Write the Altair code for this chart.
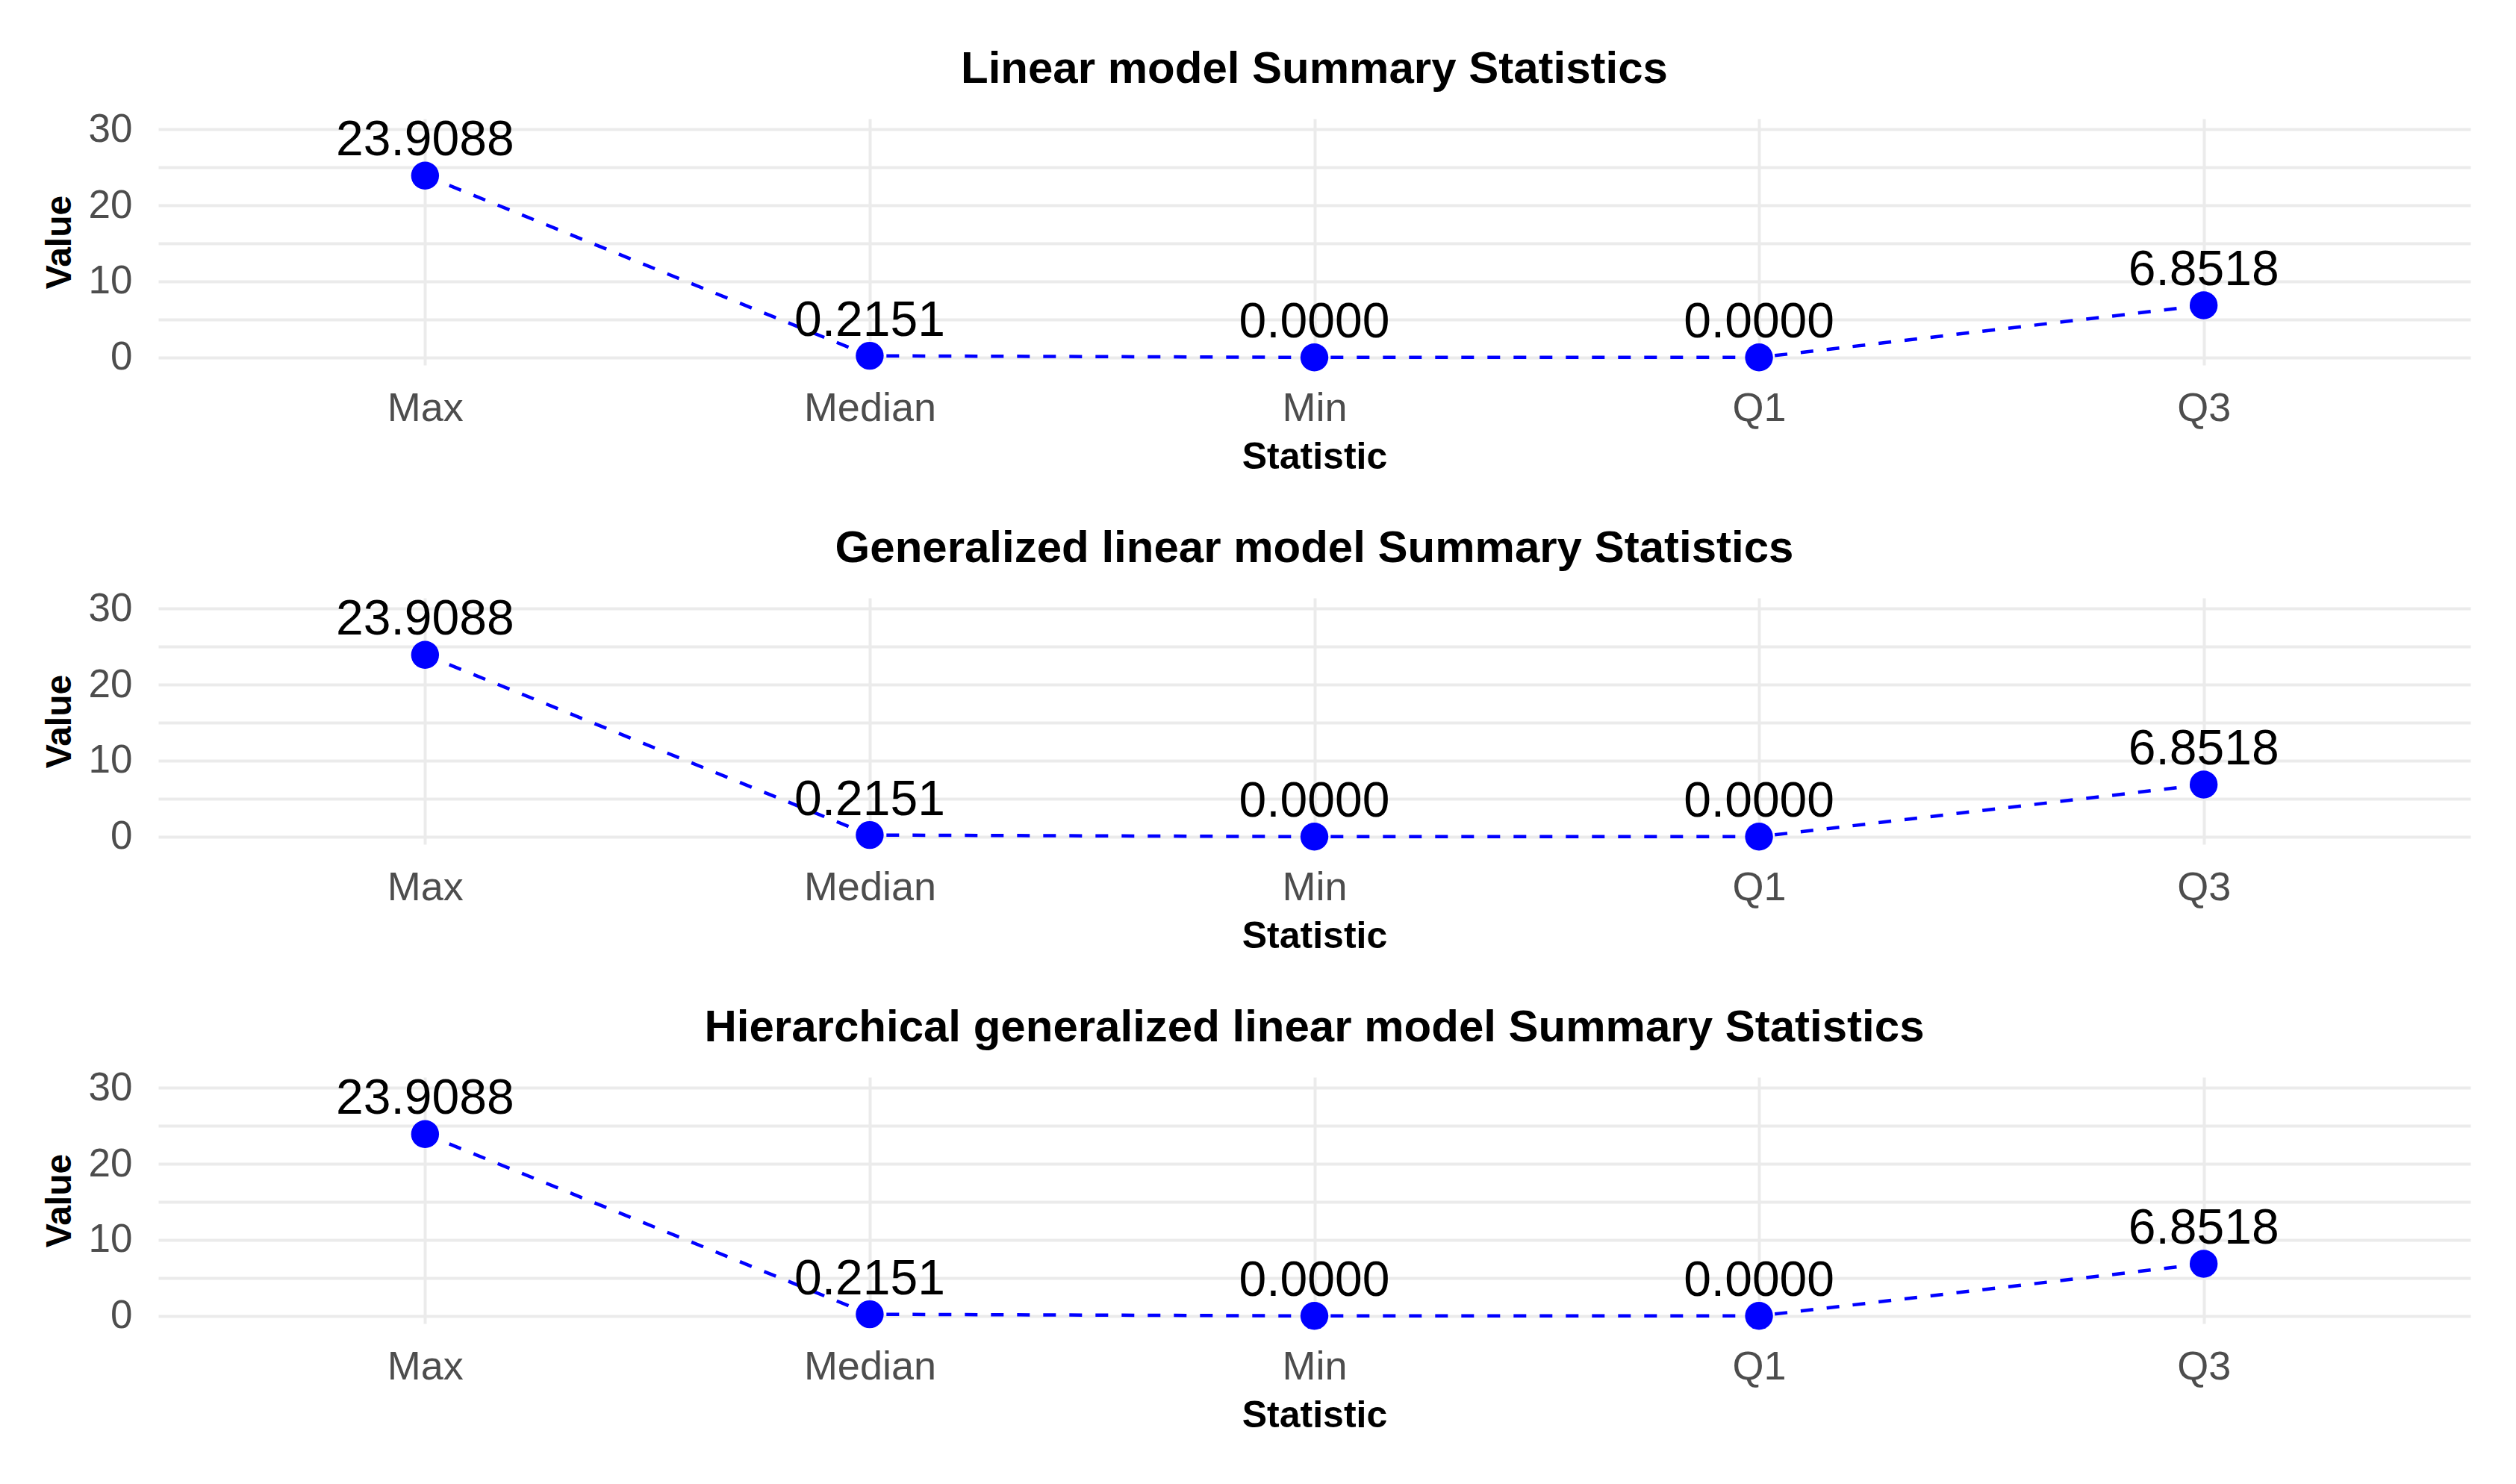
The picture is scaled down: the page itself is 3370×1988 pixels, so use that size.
import altair as alt
import pandas as pd

# ---- data ----
models = [
    "Linear model",
    "Generalized linear model",
    "Hierarchical generalized linear model",
]
statistics = ["Max", "Median", "Min", "Q1", "Q3"]
lm_values = [23.9088, 0.2151, 0.0000, 0.0000, 6.8518]
glm_values = [23.9088, 0.2151, 0.0000, 0.0000, 6.8518]
hglm_values = [23.9088, 0.2151, 0.0000, 0.0000, 6.8518]
y_ticks = [0, 5, 10, 15, 20, 25, 30]

FONT = "Liberation Sans"
BLUE = "#0000FF"
GRID = "#EBEBEB"


def panel(model, vals):
    df = pd.DataFrame({"Statistic": statistics, "Value": vals})
    x = alt.X(
        "Statistic:N",
        sort=statistics,
        scale=alt.Scale(type="point", padding=0.6),
        axis=alt.Axis(
            title="Statistic",
            labelAngle=0,
            ticks=False,
            tickSize=0,
            domain=False,
            grid=True,
            gridColor=GRID,
            gridWidth=4,
            labelFont=FONT,
            labelFontSize=54,
            labelColor="#4D4D4D",
            labelPadding=31,
            titleFont=FONT,
            titleFontSize=50,
            titleFontWeight="bold",
            titleColor="black",
            titlePadding=13,
        ),
    )
    y = alt.Y(
        "Value:Q",
        scale=alt.Scale(domain=[-1, 31.4], nice=False, zero=False),
        axis=alt.Axis(
            title="Value",
            values=y_ticks,
            labelExpr="datum.value % 10 == 0 ? datum.label : ''",
            ticks=False,
            tickSize=0,
            domain=False,
            grid=True,
            gridColor=GRID,
            gridWidth=4,
            labelFont=FONT,
            labelFontSize=53,
            labelColor="#4D4D4D",
            labelPadding=35,
            labelFlush=False,
            labelOverlap=False,
            titleFont=FONT,
            titleFontSize=48,
            titleFontWeight="bold",
            titleColor="black",
            titlePadding=14,
        ),
    )
    base = alt.Chart(df).encode(x=x, y=y)
    line = base.mark_line(color=BLUE, strokeDash=[17, 18], strokeWidth=4.5)
    pts = base.mark_circle(color=BLUE, size=1400, opacity=1)
    txt = base.mark_text(
        dy=-27, baseline="alphabetic", fontSize=66, font=FONT, color="black"
    ).encode(text=alt.Text("Value:Q", format=".4f"))
    return alt.layer(line, pts, txt).properties(
        width=3097,
        height=330,
        title=alt.TitleParams(
            f"{model} Summary Statistics",
            font=FONT,
            fontSize=60,
            fontWeight="bold",
            color="black",
            anchor="middle",
            frame="group",
            baseline="alphabetic",
            offset=-24,
        ),
    )


chart = (
    alt.vconcat(
        panel(models[0], lm_values),
        panel(models[1], glm_values),
        panel(models[2], hglm_values),
        spacing=68,
    )
    .properties(padding={"left": 48, "top": 55, "right": 5, "bottom": 5}, background="white")
    .configure_view(stroke=None)
)

chart.save("out.html", embed_options={"renderer": "svg", "actions": False})
